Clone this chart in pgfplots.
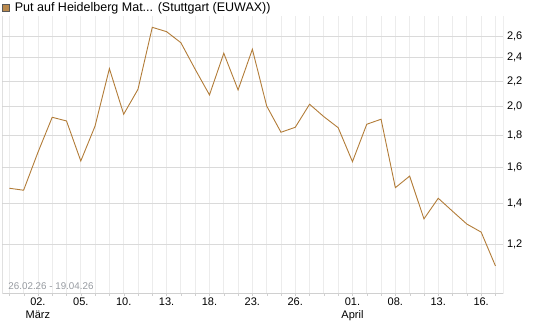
\documentclass[border=0pt]{standalone}
\usepackage{pgfplots}
\pgfplotsset{compat=1.18}
\usepackage{fontspec}
\setmainfont{Liberation Sans}
\definecolor{linec}{RGB}{178,124,56}
\definecolor{hgrid}{RGB}{218,218,218}
\definecolor{vgrid}{RGB}{236,236,236}
\definecolor{axc}{RGB}{208,208,208}
\definecolor{datec}{RGB}{150,154,160}
\begin{document}
\begin{tikzpicture}[x=1pt,y=1pt]
\path[use as bounding box] (0,0) rectangle (545,327);
\begin{axis}[
  at={(2.3pt,34pt)}, anchor=south west,
  scale only axis, width=501pt, height=277pt,
  xmin=-0.49, xmax=34.55,
  ymode=log, ymin=1.003, ymax=2.80,
  axis line style={draw=none},
  font=\fontsize{11}{13}\selectfont,
  xtick={2,5,8,11,14,17,20,24,27,30,33},
  xticklabels={{02.\\März},05.,10.,13.,18.,23.,26.,{01.\\April},08.,13.,16.},
  minor xtick={0,1,...,34},
  xtick pos=left,
  tick align=outside,
  major tick length=3pt, minor tick length=3pt,
  x tick style={draw=axc},
  xticklabel style={align=center, anchor=north, inner sep=0pt, yshift=-1.5pt},
  ytick={1.2,1.4,1.6,1.8,2.0,2.2,2.4,2.6},
  yticklabels={{1,2},{1,4},{1,6},{1,8},{2,0},{2,2},{2,4},{2,6}},
  ytick pos=right, yticklabel pos=right,
  y tick style={draw=none},
  yticklabel style={anchor=west, inner sep=0pt, xshift=0.5pt},
  xmajorgrids, xminorgrids, ymajorgrids,
  major x grid style={draw=vgrid, line width=0.8pt},
  minor x grid style={draw=vgrid, line width=0.8pt},
  major y grid style={draw=hgrid, line width=0.8pt},
  legend style={at={(0,1)}, anchor=south west, draw=none, fill=none,
    inner sep=0pt, outer sep=0pt, yshift=1.5pt, xshift=-0.3pt,
    font=\fontsize{12.5}{14}\selectfont,
    nodes={inner sep=1pt},
    /tikz/every odd column/.append style={column sep=4pt}},
  legend cell align=left,
  legend image code/.code={\draw[draw=black!65,fill=linec!90,line width=0.6pt] (0pt,-3.5pt) rectangle (7.3pt,3.6pt);},
]
\draw[axc, line width=0.9pt] (rel axis cs:0,1) -- (rel axis cs:0,0) -- (rel axis cs:1,0) -- (rel axis cs:1,1);
\addplot[linec, line width=0.9pt, mark=none] table {
x y
0 1.479
1 1.468
2 1.689
3 1.924
4 1.898
5 1.636
6 1.863
7 2.304
8 1.946
9 2.134
10 2.685
11 2.642
12 2.536
13 2.298
14 2.090
15 2.439
16 2.129
17 2.475
18 2.006
19 1.820
20 1.854
21 2.019
22 1.928
23 1.851
24 1.632
25 1.875
26 1.910
27 1.482
28 1.547
29 1.320
30 1.425
31 1.358
32 1.295
33 1.257
34 1.109
};
\addlegendentry{Put auf Heidelberg Mat... (Stuttgart (EUWAX))}
\node[anchor=base west, text=datec, inner sep=0pt, font=\fontsize{9.8}{11}\selectfont] at ([xshift=6pt,yshift=3.7pt]rel axis cs:0,0) {26.02.26 - 19.04.26};
\end{axis}
\end{tikzpicture}
\end{document}
